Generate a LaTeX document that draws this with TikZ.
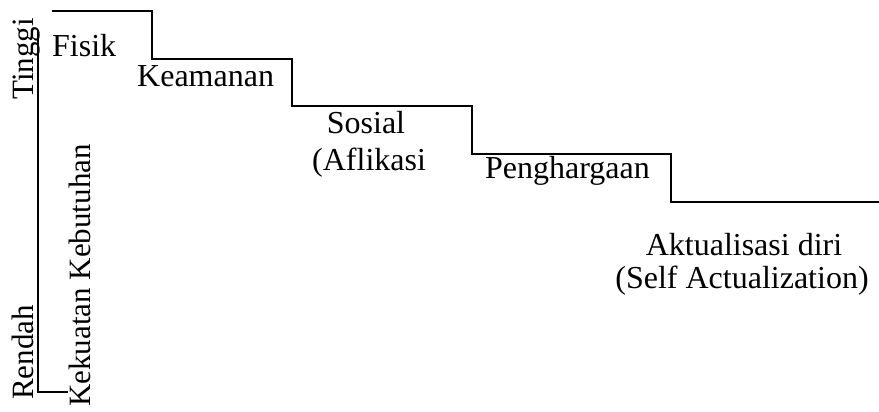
\documentclass[tikz,border=0pt]{standalone}
\usepackage{fontspec}
\setmainfont{Liberation Serif}
\begin{document}
\begin{tikzpicture}[x=1pt,y=-1pt,
  lbl/.style={inner sep=0pt,anchor=base west,font=\fontsize{32}{36}\selectfont},
  clbl/.style={inner sep=0pt,anchor=base,font=\fontsize{32}{36}\selectfont},
  vlbl/.style={inner sep=0pt,anchor=base west,rotate=90,font=\fontsize{31}{35}\selectfont},
  stair/.style={line width=2pt,line join=miter}]
\useasboundingbox (0,0) rectangle (879,412);
% axis
\draw[stair] (38,30) -- (38,392) -- (68,392);
% staircase
\draw[stair] (52,11) -- (152,11) -- (152,59) -- (292,59) -- (292,106) -- (472,106) -- (472,154) -- (671,154) -- (671,202) -- (879,202);
% axis labels
\node[vlbl] (tinggi) at (33,100) {Tinggi};
\node[vlbl] (rendah) at (33,400) {Rendah};
\node[vlbl] (kk) at (90,407) {Kekuatan Kebutuhan};
% step labels
\node[lbl] (fisik) at (52,57) {Fisik};
\node[lbl] (keamanan) at (137,87) {Keamanan};
\node[clbl] (sosial) at (366,133) {Sosial};
\node[lbl] (aflikasi) at (312,170) {(Aflikasi};
\node[lbl] (peng) at (485,178) {Penghargaan};
\node[clbl] (akt) at (744,255) {Aktualisasi diri};
\node[clbl] (self) at (742,288) {(Self Actualization)};
\end{tikzpicture}
\end{document}
